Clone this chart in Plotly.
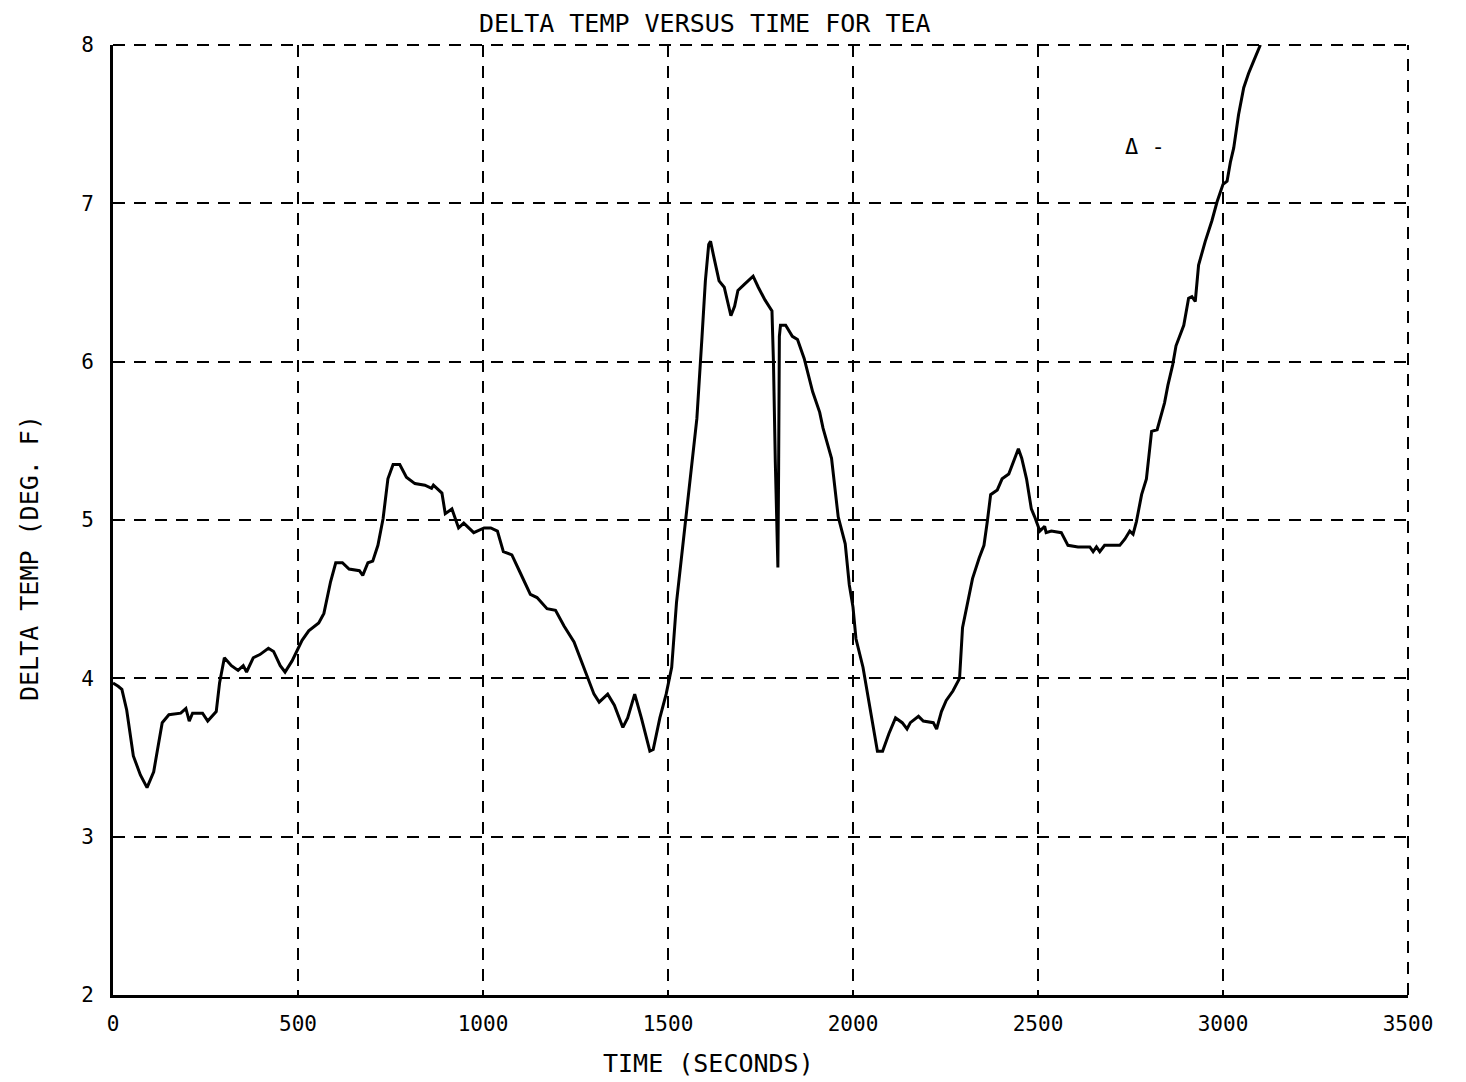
import plotly.graph_objects as go

# Data (time in seconds, delta temperature in deg F)
time_s = [0, 14, 24, 37, 55, 74, 92, 110, 124, 133, 151, 183, 197, 206, 215, 242, 256, 279, 288,
          301, 320, 338, 352, 361, 379, 397, 420, 434, 452, 465, 484, 511, 529, 556, 570, 588,
          602, 620, 638, 666, 675, 689, 702, 716, 730, 743, 757, 775, 793, 816, 843, 861, 866,
          889, 898, 916, 934, 948, 975, 1003, 1021, 1039, 1055, 1078, 1100, 1128, 1146, 1173,
          1196, 1219, 1246, 1264, 1282, 1300, 1314, 1337, 1355, 1378, 1391, 1410, 1428, 1451,
          1460, 1478, 1495, 1510, 1523, 1548, 1563, 1578, 1592, 1601, 1610, 1615, 1624, 1638,
          1652, 1666, 1670, 1680, 1689, 1707, 1730, 1744, 1762, 1781, 1785, 1790, 1797, 1799,
          1801, 1804, 1818, 1836, 1850, 1868, 1891, 1910, 1919, 1942, 1960, 1979, 1990, 2000,
          2008, 2027, 2049, 2066, 2080, 2097, 2115, 2133, 2146, 2155, 2177, 2190, 2217, 2226,
          2239, 2252, 2270, 2288, 2296, 2310, 2323, 2341, 2354, 2363, 2372, 2390, 2403, 2421,
          2434, 2447, 2456, 2469, 2482, 2491, 2505, 2518, 2522, 2536, 2563, 2581, 2608, 2640,
          2649, 2658, 2667, 2680, 2721, 2735, 2748, 2757, 2766, 2780, 2793, 2807, 2822, 2842,
          2851, 2864, 2873, 2894, 2907, 2916, 2925, 2930, 2934, 2952, 2970, 2984, 3000, 3011,
          3020, 3029, 3042, 3056, 3069, 3083, 3101]
delta_f = [3.97, 3.95, 3.93, 3.80, 3.51, 3.39, 3.31, 3.41, 3.60, 3.72, 3.77, 3.78, 3.81, 3.73, 3.78,
           3.78, 3.73, 3.79, 3.97, 4.13, 4.08, 4.05, 4.08, 4.04, 4.13, 4.15, 4.19, 4.17, 4.08,
           4.04, 4.11, 4.24, 4.30, 4.35, 4.41, 4.61, 4.73, 4.73, 4.69, 4.68, 4.65, 4.73, 4.74,
           4.84, 5.01, 5.26, 5.35, 5.35, 5.27, 5.23, 5.22, 5.20, 5.22, 5.17, 5.04, 5.07, 4.95,
           4.98, 4.92, 4.95, 4.95, 4.93, 4.80, 4.78, 4.67, 4.53, 4.51, 4.44, 4.43, 4.33, 4.23,
           4.12, 4.02, 3.90, 3.85, 3.90, 3.83, 3.69, 3.75, 3.90, 3.75, 3.54, 3.55, 3.75, 3.90,
           4.07, 4.48, 5.00, 5.33, 5.64, 6.16, 6.51, 6.74, 6.76, 6.66, 6.51, 6.47, 6.33, 6.29,
           6.35, 6.45, 6.49, 6.54, 6.47, 6.39, 6.32, 6.00, 5.37, 4.70, 5.33, 6.16, 6.23, 6.23,
           6.16, 6.14, 6.02, 5.81, 5.68, 5.58, 5.39, 5.02, 4.85, 4.59, 4.45, 4.25, 4.07, 3.77,
           3.54, 3.54, 3.65, 3.75, 3.72, 3.68, 3.72, 3.76, 3.73, 3.72, 3.68, 3.79, 3.86, 3.92,
           4.00, 4.32, 4.49, 4.63, 4.76, 4.84, 4.99, 5.16, 5.19, 5.26, 5.29, 5.37, 5.45, 5.39,
           5.26, 5.07, 5.02, 4.93, 4.96, 4.92, 4.93, 4.92, 4.84, 4.83, 4.83, 4.80, 4.83, 4.80,
           4.84, 4.84, 4.88, 4.93, 4.91, 4.99, 5.16, 5.26, 5.56, 5.57, 5.74, 5.85, 5.98, 6.10,
           6.23, 6.40, 6.41, 6.38, 6.53, 6.61, 6.76, 6.89, 7.01, 7.12, 7.14, 7.26, 7.35, 7.56,
           7.73, 7.82, 7.90, 8.00]

x_ticks = [0, 500, 1000, 1500, 2000, 2500, 3000, 3500]
y_ticks = [2, 3, 4, 5, 6, 7, 8]

FONT = "DejaVu Sans Mono"

fig = go.Figure()
fig.add_trace(go.Scatter(x=time_s, y=delta_f, mode="lines",
                         line=dict(color="black", width=3), showlegend=False,
                         cliponaxis=True))

axis_common = dict(showgrid=True, gridcolor="black", gridwidth=2, griddash="12px,9px",
                   showline=True, linecolor="black", linewidth=3, zeroline=False,
                   ticks="", tickfont=dict(family=FONT, size=21, color="black"))

fig.update_xaxes(range=[0, 3500], tickvals=x_ticks, ticktext=[str(v) for v in x_ticks],
                 ticklabelstandoff=8, **axis_common)
fig.update_yaxes(range=[2, 8], tickvals=y_ticks, ticktext=[str(v) for v in y_ticks],
                 ticklabelstandoff=12, **axis_common)

# dashed top and right borders (grid at range edges)
fig.add_shape(type="line", xref="paper", yref="paper", x0=0, x1=1, y0=1, y1=1,
              line=dict(color="black", width=2, dash="12px,9px"))
fig.add_shape(type="line", xref="paper", yref="paper", x0=1, x1=1, y0=0, y1=1,
              line=dict(color="black", width=2, dash="12px,9px"))

fig.add_annotation(x=2790, y=7.36, text="\u0394 -", showarrow=False,
                   font=dict(family=FONT, size=22, color="black"))

fig.add_annotation(text="DELTA TEMP VERSUS TIME FOR TEA", xref="paper", yref="paper",
                   x=0.457, y=1.0, xanchor="center", yanchor="middle", yshift=22,
                   showarrow=False, font=dict(family=FONT, size=25, color="black"))
fig.add_annotation(text="TIME (SECONDS)", xref="paper", yref="paper",
                   x=0.46, y=0, xanchor="center", yanchor="middle", yshift=-68,
                   showarrow=False, font=dict(family=FONT, size=25, color="black"))
fig.add_annotation(text="DELTA TEMP (DEG. F)", xref="paper", yref="paper",
                   x=0, xshift=-84, y=0.46, xanchor="center", yanchor="middle",
                   textangle=-90, showarrow=False,
                   font=dict(family=FONT, size=25, color="black"))

fig.update_layout(width=1466, height=1082, plot_bgcolor="white", paper_bgcolor="white",
                  margin=dict(l=105, r=66, t=37, b=95), showlegend=False)

fig.write_html("out.html")
